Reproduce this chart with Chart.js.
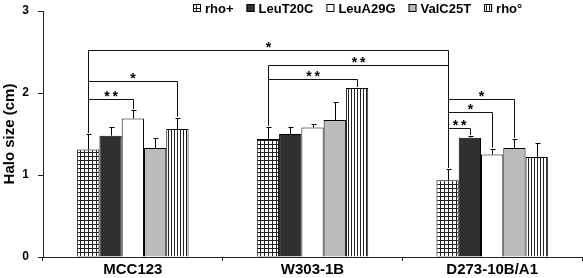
<!DOCTYPE html>
<html>
<head>
<meta charset="utf-8">
<script src="https://cdn.jsdelivr.net/npm/chart.js@4.4.0/dist/chart.umd.min.js"></script>
<style>
  html, body { margin: 0; padding: 0; background: #fff; }
</style>
</head>
<body>
<canvas id="plot1" width="583" height="278"></canvas>
<script>
// Datos
let categorias = ["MCC123", "W303-1B", "D273-10B/A1"];
let series = ["rho+", "LeuT20C", "LeuA29G", "ValC25T", "rho°"];

let rhoPlus = [1.31, 1.44, 0.935];
let leuT20C = [1.48, 1.5, 1.455];
let leuA29G = [1.69, 1.58, 1.25];
let valC25T = [1.33, 1.67, 1.33];
let rhoCero = [1.56, 2.06, 1.22];

let rhoPlusErr = [0.19, 0.15, 0.14];
let leuT20CErr = [0.11, 0.08, 0.02];
let leuA29GErr = [0.1, 0.04, 0.07];
let valC25TErr = [0.12, 0.22, 0.11];
let rhoCeroErr = [0.14, 0, 0.17];

let yTicks = [0, 1, 2, 3];

// Corchetes de significancia: [serie, categoria] -> [serie, categoria]
let corchetes = [
  { de: [0, 0], a: [0, 2], y: 2.524, texto: "*" },
  { de: [0, 1], a: [0, 2], y: 2.34, texto: "**" },
  { de: [0, 1], a: [4, 1], y: 2.17, texto: "**" },
  { de: [0, 0], a: [4, 0], y: 2.146, texto: "*" },
  { de: [0, 0], a: [2, 0], y: 1.927, texto: "**" },
  { de: [0, 2], a: [3, 2], y: 1.927, texto: "*" },
  { de: [0, 2], a: [2, 2], y: 1.768, texto: "*" },
  { de: [0, 2], a: [1, 2], y: 1.573, texto: "**" },
];

let valores = [rhoPlus, leuT20C, leuA29G, valC25T, rhoCero];
let errores = [rhoPlusErr, leuT20CErr, leuA29GErr, valC25TErr, rhoCeroErr];

let plotRef = document.getElementById("plot1");
let ctx = plotRef.getContext("2d");

// Tramas de relleno
let crearTrama = (w, h, dibujar) => {
  let c = document.createElement("canvas");
  c.width = w;
  c.height = h;
  let g = c.getContext("2d");
  g.fillStyle = "#fff";
  g.fillRect(0, 0, w, h);
  g.fillStyle = "#222";
  dibujar(g);
  return ctx.createPattern(c, "repeat");
};

let tramaCuadros = crearTrama(4, 4, (g) => {
  g.fillRect(0, 0, 4, 1);
  g.fillRect(0, 0, 1, 4);
});
let tramaRayas = crearTrama(3, 3, (g) => {
  g.fillRect(0, 0, 1, 3);
});

let rellenos = [tramaCuadros, "#303030", "#ffffff", "#bcbcbc", tramaRayas];

let fuente = '"Liberation Sans", Arial, sans-serif';
Chart.defaults.font.family = fuente;
Chart.defaults.color = "#000";

// Barras de error (solo hacia arriba)
let barrasError = {
  id: "barrasError",
  afterDatasetsDraw: (chart) => {
    let c = chart.ctx;
    let yScale = chart.scales.y;
    c.save();
    c.strokeStyle = "#000";
    c.lineWidth = 1;
    valores.forEach((serie, i) => {
      let meta = chart.getDatasetMeta(i);
      serie.forEach((v, j) => {
        let err = errores[i][j];
        if (!err) return;
        let x = Math.round(meta.data[j].x) + 0.5;
        let y0 = yScale.getPixelForValue(v);
        let y1 = Math.round(yScale.getPixelForValue(v + err)) + 0.5;
        c.beginPath();
        c.moveTo(x, y0);
        c.lineTo(x, y1);
        c.moveTo(x - 2, y1);
        c.lineTo(x + 3, y1);
        c.stroke();
      });
    });
    c.restore();
  },
};

// Corchetes con asteriscos
let significancia = {
  id: "significancia",
  afterDatasetsDraw: (chart) => {
    let c = chart.ctx;
    let yScale = chart.scales.y;
    let punto = (p) => {
      let el = chart.getDatasetMeta(p[0]).data[p[1]];
      let v = valores[p[0]][p[1]] + errores[p[0]][p[1]];
      return [Math.round(el.x) + 0.5, yScale.getPixelForValue(v)];
    };
    c.save();
    c.strokeStyle = "#111";
    c.lineWidth = 1;
    c.fillStyle = "#000";
    c.font = "bold 14px " + fuente;
    c.textAlign = "center";
    c.textBaseline = "alphabetic";
    corchetes.forEach((b) => {
      let [x1, y1] = punto(b.de);
      let [x2, y2] = punto(b.a);
      let yb = Math.round(yScale.getPixelForValue(b.y)) + 0.5;
      c.beginPath();
      c.moveTo(x1, y1 - 1);
      c.lineTo(x1, yb);
      c.lineTo(x2, yb);
      c.lineTo(x2, y2 - 1);
      c.stroke();
      // los asteriscos dobles van algo separados
      let texto = b.texto.split("").join("\u2009");
      c.fillText(texto, (x1 + x2) / 2, yb + 1);
    });
    c.restore();
  },
};

// Leyenda dibujada a mano sobre el área del gráfico
let leyenda = {
  id: "leyenda",
  afterDraw: (chart) => {
    let c = chart.ctx;
    c.save();
    c.font = "bold 13px " + fuente;
    c.textBaseline = "middle";
    c.textAlign = "left";
    let x = 193;
    let yc = 8;
    series.forEach((nombre, i) => {
      c.fillStyle = rellenos[i];
      c.fillRect(x, yc - 4, 8, 8);
      c.strokeStyle = "#000";
      c.lineWidth = 1;
      c.strokeRect(x + 0.5, yc - 3.5, 7, 7);
      c.fillStyle = "#000";
      c.fillText(nombre, x + 12, yc + 1);
      x += 12 + c.measureText(nombre).width + 13;
    });
    c.restore();
  },
};

let config = {
  type: "bar",
  data: {
    labels: categorias,
    datasets: series.map((nombre, i) => ({
      label: nombre,
      data: valores[i],
      backgroundColor: rellenos[i],
      borderColor: "#000",
      borderWidth: 1,
      barPercentage: 1,
      categoryPercentage: 0.62,
    })),
  },
  options: {
    responsive: false,
    animation: false,
    layout: { padding: { top: 11, right: 1, left: 0, bottom: 0 } },
    plugins: {
      legend: { display: false },
      tooltip: { enabled: false },
    },
    scales: {
      x: {
        grid: {
          drawOnChartArea: false,
          drawTicks: true,
          tickLength: 4,
          color: "#222",
          offset: true,
        },
        border: { color: "#222", width: 1 },
        ticks: {
          font: { size: 15, weight: "bold" },
          padding: 0,
          color: "#000",
        },
        afterFit: (scale) => {
          scale.height = 21;
        },
      },
      y: {
        min: 0,
        max: 3,
        afterBuildTicks: (scale) => {
          scale.ticks = yTicks.map((v) => ({ value: v }));
        },
        grid: {
          drawOnChartArea: false,
          drawTicks: true,
          tickLength: 5,
          color: "#222",
        },
        border: { color: "#222", width: 1 },
        ticks: {
          font: { size: 12, weight: "bold" },
          padding: 9,
          color: "#000",
        },
        title: {
          display: true,
          text: "Halo size (cm)",
          font: { size: 15, weight: "bold" },
          color: "#000",
          padding: { top: 1, bottom: 0 },
        },
        afterFit: (scale) => {
          scale.width = 43;
          scale.paddingTop = 5;
          scale.paddingBottom = 5;
        },
      },
    },
  },
  plugins: [barrasError, significancia, leyenda],
};

let chart1 = new Chart(plotRef, config);
</script>
</body>
</html>
